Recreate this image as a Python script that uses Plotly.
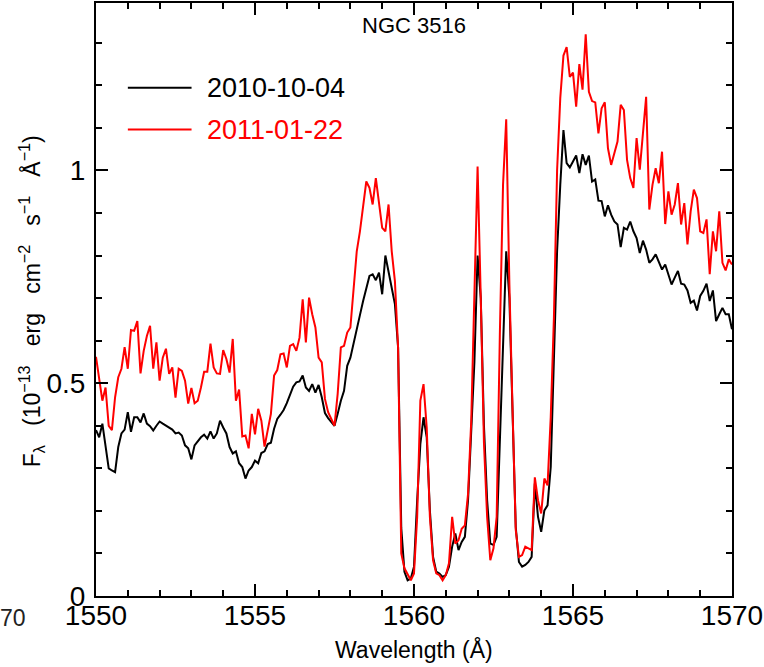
import plotly.graph_objects as go

# Sampling grid of the spectra (Angstrom), 0.1 A steps from 1550 to 1570
WAVE_START = 1550.0
WAVE_STEP = 0.1
N_PIX = 201
wavelength = [round(WAVE_START + WAVE_STEP * i, 1) for i in range(N_PIX)]

# Flux, 10^-13 erg cm^-2 s^-1 A^-1
flux_2010_10_04 = [
    # 1550.0 - 1555.4
    0.39, 0.373, 0.405, 0.35, 0.30, 0.295, 0.291, 0.35, 0.382, 0.391,
    0.432, 0.386, 0.42, 0.42, 0.408, 0.429, 0.405, 0.399, 0.389, 0.40,
    0.41, 0.405, 0.40, 0.395, 0.391, 0.382, 0.384, 0.377, 0.354, 0.347,
    0.321, 0.354, 0.365, 0.373, 0.379, 0.37, 0.387, 0.37, 0.382, 0.412,
    0.396, 0.382, 0.35, 0.335, 0.34, 0.312, 0.303, 0.276, 0.295, 0.303,
    0.318, 0.312, 0.336, 0.34, 0.357,
    # 1555.5 - 1559.5
    0.36, 0.393, 0.416, 0.426, 0.437, 0.453, 0.471, 0.492, 0.502, 0.504,
    0.518, 0.49, 0.482, 0.498, 0.478, 0.496, 0.467, 0.43, 0.418, 0.41,
    0.40, 0.428, 0.459, 0.482, 0.541, 0.56, 0.596, 0.627, 0.66, 0.693,
    0.721, 0.752, 0.756, 0.742, 0.76, 0.709, 0.80, 0.763, 0.721, 0.686,
    0.584,
    # 1559.6 - 1564.4
    0.16, 0.057, 0.037, 0.041, 0.069, 0.225, 0.357, 0.42, 0.373, 0.201,
    0.092, 0.057, 0.053, 0.045, 0.049, 0.069, 0.116, 0.147, 0.108, 0.127,
    0.139, 0.225, 0.381, 0.55, 0.80, 0.70, 0.40, 0.225, 0.123, 0.12,
    0.139, 0.381, 0.60, 0.81, 0.70, 0.428, 0.162, 0.080, 0.069, 0.073,
    0.080, 0.092, 0.264, 0.186, 0.151, 0.201, 0.213, 0.303, 0.568,
    # 1564.5 - 1570.0
    0.81, 0.966, 1.095, 1.017, 1.007, 1.021, 1.035, 0.994, 1.038, 1.013,
    1.035, 0.974, 0.979, 0.929, 0.928, 0.892, 0.918, 0.896, 0.88, 0.873,
    0.82, 0.865, 0.861, 0.88, 0.857, 0.841, 0.806, 0.835, 0.814, 0.783,
    0.791, 0.803, 0.783, 0.767, 0.779, 0.756, 0.732, 0.748, 0.764, 0.734,
    0.732, 0.718, 0.689, 0.694, 0.671, 0.705, 0.717, 0.734, 0.693, 0.718,
    0.646, 0.662, 0.677, 0.662, 0.662, 0.627,
]

flux_2011_01_22 = [
    # 1550.0 - 1555.4
    0.562, 0.506, 0.459, 0.49, 0.40, 0.39, 0.467, 0.514, 0.534, 0.585,
    0.534, 0.625, 0.623, 0.646, 0.523, 0.576, 0.611, 0.635, 0.534, 0.596,
    0.506, 0.560, 0.581, 0.522, 0.537, 0.466, 0.534, 0.529, 0.506, 0.452,
    0.489, 0.453, 0.459, 0.49, 0.527, 0.527, 0.593, 0.537, 0.523, 0.522,
    0.578, 0.557, 0.525, 0.604, 0.459, 0.485, 0.375, 0.377, 0.347, 0.428,
    0.38, 0.44, 0.412, 0.351, 0.387,
    # 1555.5 - 1559.5
    0.428, 0.518, 0.531, 0.568, 0.570, 0.537, 0.588, 0.592, 0.576, 0.607,
    0.697, 0.596, 0.701, 0.662, 0.631, 0.560, 0.549, 0.463, 0.432, 0.416,
    0.40, 0.475, 0.584, 0.588, 0.619, 0.631, 0.732, 0.81, 0.857, 0.92,
    0.974, 0.959, 0.92, 0.982, 0.92, 0.865, 0.857, 0.92, 0.81, 0.74,
    0.584,
    # 1559.6 - 1564.4
    0.10, 0.065, 0.049, 0.037, 0.053, 0.186, 0.459, 0.498, 0.396, 0.186,
    0.084, 0.053, 0.049, 0.037, 0.049, 0.077, 0.186, 0.123, 0.131, 0.158,
    0.166, 0.24, 0.412, 0.724, 1.009, 0.70, 0.36, 0.186, 0.084, 0.112,
    0.186, 0.615, 0.966, 1.12, 0.732, 0.436, 0.155, 0.092, 0.096, 0.116,
    0.112, 0.108, 0.279, 0.225, 0.194, 0.276, 0.26, 0.42, 0.654,
    # 1564.5 - 1570.0
    1.0, 1.17, 1.27, 1.29, 1.22, 1.23, 1.15, 1.25, 1.19, 1.32,
    1.185, 1.163, 1.16, 1.087, 1.146, 1.16, 1.052, 1.013, 1.044, 1.068,
    1.154, 1.142, 1.025, 0.982, 0.959, 1.076, 1.002, 1.084, 1.173, 0.908,
    0.966, 1.005, 0.97, 1.044, 0.874, 0.951, 0.896, 0.92, 0.97, 0.873,
    0.923, 0.826, 0.904, 0.955, 0.935, 0.857, 0.853, 0.885, 0.756, 0.857,
    0.81, 0.904, 0.783, 0.765, 0.791, 0.779,
]

series_names = ["2010-10-04", "2011-01-22"]
series_colors = ["#000000", "#ff0000"]

x_tickvals = [1550, 1555, 1560, 1565, 1570]
x_ticktext = ["1550", "1555", "1560", "1565", "1570"]
y_tickvals = [0, 0.5, 1]
y_ticktext = ["0", "0.5", "1"]

title_text = "NGC 3516"
x_title = "Wavelength (Å)"
SP = "\u00a0\u00a0 "
y_title = ("F<sub>λ</sub>" + SP + "(10<sup>−13</sup>" + SP + "erg" + SP + "cm<sup>−2</sup>" + SP +
           "s<sup>−1</sup>" + SP + "Å<sup>−1</sup>)")

NARROW = "Liberation Sans Narrow, Arial Narrow, Liberation Sans, Arial, sans-serif"
REGULAR = "Liberation Sans, Arial, sans-serif"

W, H = 764, 667
L, R, T, B = 96, 29, 1, 71
PW, PH = W - L - R, H - T - B


def px_x(p):
    return (p - L) / PW


def px_y(p):
    return (H - B - p) / PH


fig = go.Figure()
for name, color, flux in zip(series_names, series_colors, [flux_2010_10_04, flux_2011_01_22]):
    fig.add_trace(go.Scatter(x=wavelength, y=flux, mode="lines", name=name,
                             line=dict(color=color, width=2), showlegend=False))

axis_common = dict(
    showline=True, linecolor="black", linewidth=2, mirror="ticks",
    ticks="inside", ticklen=12, tickwidth=1.5, tickcolor="black",
    showgrid=False, zeroline=False, ticklabeloverflow="allow",
    tickfont=dict(family=NARROW, size=28, color="black"),
)

fig.update_xaxes(range=[1550, 1570.0005], tickvals=x_tickvals, ticktext=x_ticktext,
                 minor=dict(dtick=1, ticks="inside", ticklen=6, tickwidth=1.5,
                            tickcolor="black", showgrid=False),
                 ticklabelstandoff=-7,
                 **axis_common)
fig.update_yaxes(range=[0, PH / 427.0], tickvals=y_tickvals, ticktext=y_ticktext,
                 minor=dict(dtick=0.1, ticks="inside", ticklen=6, tickwidth=1.5,
                            tickcolor="black", showgrid=False),
                 ticklabelstandoff=3,
                 **axis_common)

shapes = []
annotations = []
legend_rows_px = [86, 128]
for name, color, ypx in zip(series_names, series_colors, legend_rows_px):
    shapes.append(dict(type="line", xref="paper", yref="paper",
                       x0=px_x(128), x1=px_x(192), y0=px_y(ypx), y1=px_y(ypx),
                       line=dict(color=color, width=2)))
    annotations.append(dict(text=name, xref="paper", yref="paper",
                            x=px_x(206), y=px_y(ypx), xanchor="left", yanchor="middle",
                            showarrow=False,
                            font=dict(family=REGULAR, size=27, color=color)))

annotations.append(dict(text=title_text, xref="paper", yref="paper",
                        x=px_x(415), y=px_y(24), xanchor="center", yanchor="middle",
                        showarrow=False, font=dict(family=REGULAR, size=22, color="black")))
annotations.append(dict(text=x_title, xref="paper", yref="paper",
                        x=px_x(415.5), y=px_y(650), xanchor="center", yanchor="middle",
                        showarrow=False, font=dict(family=REGULAR, size=23, color="black")))
annotations.append(dict(text=y_title, xref="paper", yref="paper",
                        x=px_x(31), y=px_y(300), xanchor="center", yanchor="middle",
                        textangle=-90, showarrow=False,
                        font=dict(family=REGULAR, size=23, color="black")))
annotations.append(dict(text="70", xref="paper", yref="paper",
                        x=px_x(-2), y=px_y(618.5), xanchor="left", yanchor="middle",
                        showarrow=False, font=dict(family=NARROW, size=23, color="#222222")))

fig.update_layout(
    width=W, height=H, autosize=False,
    margin=dict(l=L, r=R, t=T, b=B, pad=0),
    paper_bgcolor="white", plot_bgcolor="white",
    shapes=shapes, annotations=annotations,
    showlegend=False,
)

fig.write_html("out.html", config={"displayModeBar": False},
               post_script="document.body.style.margin='0px';")
